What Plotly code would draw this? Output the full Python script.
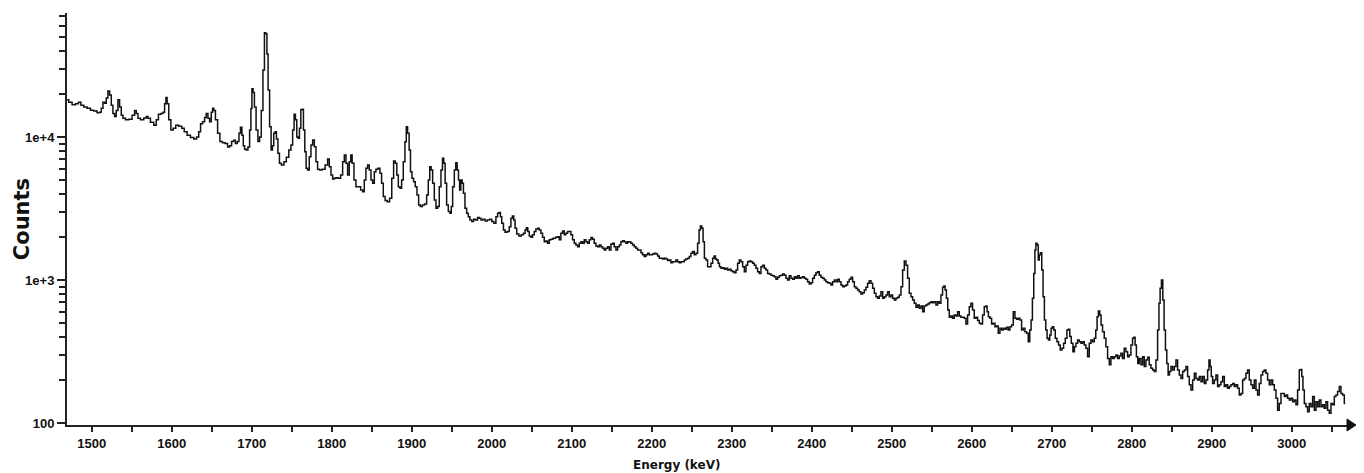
import plotly.graph_objects as go

# ---- data ----
energy_kev = [
    1469.1, 1473.3, 1477.4, 1481.6, 1484.9, 1487.9, 1492.0, 1496.2, 1500.4, 1504.5,
    1508.7, 1510.8, 1512.9, 1515.0, 1517.0, 1519.1, 1521.2, 1523.3, 1525.4, 1527.4,
    1529.5, 1531.6, 1533.7, 1535.8, 1537.9, 1540.0, 1544.1, 1548.3, 1552.4, 1554.5,
    1556.6, 1558.7, 1562.9, 1567.0, 1569.1, 1571.2, 1575.4, 1579.5, 1581.6, 1585.0,
    1587.9, 1590.0, 1592.0, 1593.3, 1595.0, 1597.4, 1600.3, 1603.3, 1606.6, 1610.8,
    1614.1, 1617.0, 1621.2, 1625.4, 1629.5, 1632.4, 1634.9, 1637.0, 1640.0, 1642.0,
    1644.1, 1646.2, 1648.3, 1650.3, 1651.6, 1653.3, 1655.8, 1658.7, 1661.6, 1665.0,
    1668.3, 1671.2, 1673.3, 1676.2, 1678.3, 1680.8, 1682.9, 1685.0, 1686.6, 1688.7,
    1690.0, 1692.0, 1694.1, 1696.2, 1698.3, 1699.5, 1700.8, 1702.4, 1704.1, 1706.6,
    1708.7, 1710.8, 1712.9, 1715.0, 1716.6, 1718.3, 1719.5, 1721.2, 1723.3, 1725.0,
    1726.6, 1728.3, 1730.0, 1731.6, 1733.7,
    1735.4, 1738.7, 1741.7, 1744.6, 1747.9, 1750.0, 1752.1, 1753.7, 1755.4, 1757.1,
    1758.7, 1760.4, 1762.1, 1763.7, 1765.4, 1767.1, 1768.7, 1770.8, 1772.9, 1775.0,
    1777.1, 1779.2, 1781.2, 1783.3, 1786.2, 1789.6, 1793.7, 1795.8, 1797.9, 1800.0,
    1802.1, 1804.2, 1806.2, 1809.6, 1812.5, 1814.6, 1816.7, 1818.7, 1820.8, 1822.9,
    1824.6, 1826.2, 1829.2, 1831.2, 1834.6, 1837.5, 1839.6, 1841.6, 1843.7, 1845.8,
    1847.9, 1850.0, 1852.1, 1854.2, 1856.2, 1859.2, 1861.2, 1863.3, 1865.4, 1867.9,
    1870.8, 1873.7, 1876.2, 1878.3, 1880.4, 1882.1, 1884.2, 1886.2, 1888.3, 1890.4,
    1892.5, 1893.7, 1895.8, 1897.5, 1899.2, 1901.2, 1903.3, 1905.4, 1907.5, 1909.6,
    1911.7, 1914.6, 1917.5, 1919.6, 1921.6, 1923.3, 1925.0, 1927.1, 1929.2, 1931.2,
    1933.3, 1935.4, 1937.5, 1939.2, 1940.8, 1942.5, 1944.6, 1946.7, 1948.7, 1950.0,
    1952.1, 1954.2, 1955.8, 1957.5, 1959.2, 1960.4, 1962.1, 1963.7, 1965.4, 1967.5,
    1969.6, 1971.6, 1973.7, 1976.2, 1978.3, 1981.2, 1983.3, 1985.4, 1987.5, 1990.4,
    1992.9, 1995.8, 1998.7, 2001.2,
    2004.1, 2006.2, 2008.3, 2010.0, 2011.6, 2013.3, 2015.8, 2017.4, 2020.8, 2022.9,
    2024.9, 2026.6, 2028.3, 2029.9, 2032.4, 2035.3, 2038.3, 2040.8, 2042.4, 2044.1,
    2045.8, 2047.9, 2049.9, 2052.0, 2054.1, 2056.2, 2058.3, 2060.4, 2062.4, 2064.5,
    2066.6, 2068.7, 2070.8, 2072.9, 2074.9, 2078.3, 2081.2, 2083.3, 2085.3, 2087.4,
    2089.5, 2091.6, 2093.7, 2095.8, 2097.9, 2099.9, 2102.0, 2104.1, 2106.2, 2108.3,
    2110.4, 2112.4, 2114.5, 2116.6, 2118.7, 2120.8, 2122.9, 2124.9, 2127.0, 2129.1,
    2131.2, 2133.3, 2135.4, 2137.4, 2139.5, 2141.6, 2143.7, 2145.8, 2147.9, 2149.9,
    2152.0, 2154.1, 2156.2, 2158.3, 2160.4, 2162.4, 2164.5, 2166.6, 2168.7, 2170.8,
    2172.9, 2174.9, 2177.0, 2179.1, 2181.2, 2183.3, 2185.4, 2187.4, 2189.5, 2191.6,
    2193.7, 2195.8, 2197.9, 2199.9, 2202.0, 2204.1, 2206.2, 2208.3, 2210.4, 2212.4,
    2214.5, 2216.6, 2218.7, 2220.8, 2222.9, 2224.9, 2227.0, 2229.1, 2231.2, 2233.3,
    2235.4, 2237.4, 2239.5, 2241.6, 2243.7, 2245.8, 2247.9, 2249.9, 2252.0, 2254.1,
    2256.2, 2258.3, 2259.9, 2261.6, 2263.3, 2264.9, 2266.6, 2268.7, 2270.8,
    2272.9, 2275.0, 2277.1, 2278.7, 2280.4, 2282.1, 2283.7, 2285.4, 2287.5, 2289.6,
    2291.7, 2293.7, 2295.8, 2297.9, 2300.0, 2302.1, 2304.2, 2306.2, 2308.3, 2310.4,
    2312.5, 2314.6, 2316.7, 2318.7, 2320.8, 2322.9, 2325.0, 2327.1, 2329.2, 2331.2,
    2333.3, 2335.4, 2337.5, 2339.6, 2341.7, 2343.7, 2345.8, 2347.9, 2350.0, 2352.1,
    2354.2, 2356.2, 2358.3, 2360.4, 2362.5, 2364.6, 2366.7, 2368.7, 2370.8, 2372.9,
    2375.0, 2377.1, 2379.2, 2381.2, 2383.3, 2385.4, 2387.5, 2389.6, 2391.7, 2393.7,
    2395.8, 2397.9, 2400.0, 2402.1, 2404.2, 2406.2, 2408.3, 2410.4, 2412.5, 2414.6,
    2416.7, 2418.7, 2420.8, 2422.9, 2425.0, 2427.1, 2429.2, 2431.2, 2433.3, 2435.4,
    2437.5, 2439.6, 2441.7, 2443.7, 2445.8, 2447.9, 2450.0, 2452.1, 2454.2, 2456.2,
    2458.3, 2460.4, 2462.5, 2464.6, 2466.7, 2468.7, 2470.8, 2472.9, 2475.0, 2477.1,
    2479.2, 2481.2, 2483.3, 2485.4, 2487.5, 2489.6, 2491.7, 2493.7, 2495.8, 2497.9,
    2500.0, 2502.1, 2504.2, 2506.2, 2508.3, 2510.4, 2512.5, 2514.6, 2516.7, 2518.7,
    2520.8, 2522.9, 2525.0, 2527.1, 2529.2, 2531.2, 2533.3, 2535.4, 2537.5, 2539.6,
    2541.6, 2543.7, 2545.8, 2547.9, 2549.9, 2552.0, 2554.1, 2556.2, 2558.3, 2560.4,
    2562.4, 2564.5, 2565.8, 2567.4, 2569.1, 2570.8, 2572.9, 2574.9, 2577.0, 2579.1,
    2581.2, 2583.3, 2585.4, 2587.4, 2589.5, 2591.6, 2593.7, 2595.8, 2597.9, 2599.9,
    2602.0, 2604.1, 2606.2, 2608.3, 2610.4, 2612.4, 2614.5, 2616.6, 2618.3, 2619.9,
    2621.6, 2623.7, 2625.8, 2627.9, 2629.9, 2632.0, 2634.1, 2636.2, 2638.3, 2640.4,
    2642.4, 2644.5, 2646.6, 2648.7, 2650.8, 2652.9, 2654.9, 2657.0, 2659.1, 2661.2,
    2663.3, 2665.4, 2667.4, 2669.5, 2671.6, 2673.3, 2674.9, 2676.6, 2678.3, 2679.5,
    2680.8, 2682.4, 2683.7, 2684.9, 2686.6, 2688.3, 2689.9, 2691.6, 2693.3, 2694.9,
    2696.6, 2698.3, 2699.9, 2701.6, 2703.3, 2705.4, 2707.4, 2709.5, 2711.6, 2713.7,
    2715.8, 2717.9, 2719.9, 2721.6, 2723.3, 2725.4, 2727.4, 2729.1, 2731.2, 2733.3,
    2735.4, 2737.4, 2739.5, 2741.6, 2743.7, 2745.8, 2747.9, 2749.9, 2752.0, 2754.1,
    2755.8, 2757.4, 2759.1, 2760.8, 2762.4, 2764.5, 2766.6, 2768.7, 2770.8, 2772.9,
    2774.9, 2777.0, 2779.1, 2781.2, 2783.3, 2785.4, 2787.4, 2789.5, 2791.6, 2793.7,
    2795.8, 2797.9, 2799.9, 2802.0, 2803.3, 2804.9, 2806.6, 2808.3,
    2810.4, 2812.5, 2814.6, 2816.6, 2818.7, 2820.8, 2822.9, 2825.0, 2827.1, 2829.2,
    2831.2, 2833.3, 2834.6, 2836.2, 2837.9, 2839.6, 2841.2, 2842.9, 2844.6, 2846.2,
    2847.9, 2850.0, 2852.1, 2854.2, 2856.2, 2858.3, 2860.4, 2862.5, 2864.6, 2866.7,
    2868.7, 2870.8, 2872.9, 2875.0, 2877.1, 2879.2, 2881.2, 2883.3, 2885.4, 2887.5,
    2889.6, 2891.7, 2893.7, 2895.8, 2897.1, 2898.7, 2900.0, 2902.1, 2904.2, 2906.2,
    2908.3, 2910.4, 2912.5, 2914.6, 2916.7, 2918.7, 2920.8, 2922.9, 2925.0, 2927.1,
    2929.2, 2931.2, 2933.3, 2935.4, 2937.5, 2939.6, 2941.7, 2943.7, 2945.8, 2947.9,
    2950.0, 2952.1, 2954.2, 2956.2, 2958.3, 2960.4, 2962.5, 2964.6, 2966.7, 2968.7,
    2970.8, 2972.9, 2975.0, 2977.1, 2979.2, 2981.2, 2983.3, 2985.4, 2987.5, 2989.6,
    2991.7, 2993.7, 2995.8, 2997.9, 3000.0, 3002.1, 3004.2, 3006.2, 3008.3, 3010.4,
    3011.6, 3013.3, 3014.6, 3016.7, 3018.7, 3020.8, 3022.9, 3025.0, 3027.1, 3029.2,
    3031.2, 3033.3, 3035.4, 3037.5, 3039.6, 3041.6, 3043.7, 3045.8, 3047.9, 3050.0,
    3052.1, 3054.2, 3056.2, 3058.3, 3060.4, 3062.5, 3064.6, 3066.7,
]

counts = [
    18200, 17500, 16800, 17100, 17500, 16700, 16200, 15900, 15400, 15200,
    14800, 14900, 15900, 17500, 17200, 18700, 21000, 19700, 16700, 14600,
    13900, 15300, 18200, 16200, 14200, 13500, 13200, 13300, 14200, 15300,
    14600, 13500, 13200, 13600, 13900, 13500, 12700, 12100, 13200, 14400,
    14600, 14900, 17100, 18900, 17100, 13200, 11200, 11500, 12100, 11900,
    11500, 10900, 10300, 9900, 9700, 10000, 10900, 12400, 12800, 13700,
    14600, 13500, 12800, 14900, 15900, 15300, 13200, 10600, 9300, 9100,
    9000, 8500, 8700, 9300, 9500, 9000, 9300, 10600, 11700, 10300,
    8700, 8200, 8100, 8500, 11200, 15800, 21700, 20500, 16200, 11200,
    9300, 10000, 15300, 29400, 53500, 52700, 38000, 21300, 11800, 8100,
    8700, 10600, 10900, 9700, 7700,
    6550, 6370, 6710, 7210, 8110, 8790, 11200, 14400, 13200, 10000,
    9800, 11500, 15500, 15600, 11200, 7890, 6040, 5880, 7280, 8790,
    9530, 8550, 6710, 5940, 5880, 5940, 6370, 7020, 6200, 5420,
    5080, 5140, 5190, 5140, 5420, 6710, 7480, 6550, 5420, 6710,
    7480, 6550, 5000, 4490, 4490, 4260, 4140, 5000, 6040, 6370,
    5880, 5000, 4740, 5720, 5940, 6040, 5570, 4740, 3830, 3590,
    3530, 3730, 5140, 6790, 6550, 5420, 4490, 4380, 5000, 6710,
    9270, 11800, 10600, 8110, 5720, 5140, 4870, 4490, 3930, 3340,
    3260, 3340, 3400, 3930, 5000, 6200, 5880, 4740, 3630, 3170,
    3260, 4490, 5880, 7100, 6550, 4740, 3340, 3010, 2930, 3260,
    4490, 5880, 6610, 5880, 5000, 4260, 5000, 4740, 4040, 3170,
    2930, 2770, 2630, 2560, 2660, 2630, 2740, 2700, 2630, 2660,
    2590, 2630, 2660, 2560,
    2490, 2770, 2930, 2970, 2770, 2490, 2240, 2160, 2180, 2360,
    2700, 2800, 2630, 2300, 2100, 2030, 2070, 2120, 2240, 2320,
    2180, 2030, 1990, 2070, 2180, 2270, 2300, 2240, 2120, 1990,
    1850, 1870, 1810, 1910, 1930, 1960, 1990, 2010, 1910, 2120,
    2200, 2070, 2120, 2180, 2180, 2070, 1910, 1810, 1760, 1710,
    1810, 1850, 1810, 1910, 1850, 1810, 1910, 1980, 1930, 1810,
    1730, 1710, 1760, 1710, 1670, 1620, 1670, 1710, 1620, 1780,
    1810, 1710, 1620, 1710, 1760, 1850, 1880, 1850, 1810, 1850,
    1840, 1810, 1760, 1710, 1670, 1620, 1620, 1550, 1500, 1460,
    1500, 1540, 1500, 1500, 1520, 1540, 1520, 1470, 1420, 1420,
    1400, 1420, 1400, 1370, 1380, 1320, 1340, 1340, 1380, 1340,
    1320, 1340, 1340, 1380, 1400, 1420, 1460, 1540, 1580, 1500,
    1540, 1810, 2240, 2390, 2300, 1850, 1420, 1380, 1240,
    1240, 1310, 1420, 1470, 1400, 1380, 1310, 1240, 1210, 1220,
    1190, 1210, 1175, 1190, 1160, 1140, 1125, 1175, 1310, 1380,
    1340, 1240, 1140, 1270, 1340, 1360, 1340, 1310, 1270, 1210,
    1140, 1110, 1240, 1270, 1210, 1175, 1110, 1100, 1080, 1070,
    1055, 1010, 1045, 1070, 1080, 1100, 1080, 1030, 1000, 1070,
    1030, 1010, 1055, 1030, 1070, 1030, 1040, 1055, 1030, 1010,
    973, 937, 957, 1030, 1080, 1125, 1140, 1080, 1045, 1030,
    1000, 973, 957, 948, 923, 973, 1000, 973, 1010, 973,
    923, 898, 908, 923, 973, 1010, 1045, 973, 898, 875,
    851, 829, 798, 815, 851, 889, 948, 989, 948, 875,
    807, 764, 745, 773, 829, 745, 764, 785, 829, 764,
    785, 745, 725, 745, 757, 785, 898, 1175, 1360, 1270,
    1030, 807, 764, 725, 687, 644, 668, 634, 658, 600,
    658, 668, 679, 694, 705, 694, 705, 668, 705, 687,
    785, 889, 908, 851, 745, 617, 548, 560, 540, 569,
    560, 600, 560, 548, 548, 540, 492, 569, 650, 687,
    617, 540, 548, 520, 498, 492, 569, 650, 658, 600,
    554, 540, 492, 498, 471, 476, 424, 459, 447, 459,
    452, 467, 447, 471, 484, 600, 540, 531, 540, 525,
    447, 459, 435, 424, 370, 447, 525, 745, 1110, 1620,
    1810, 1760, 1380, 1500, 1550, 1175, 764, 525, 447, 391,
    380, 412, 459, 471, 447, 391, 370, 351, 324, 333,
    361, 391, 447, 452, 402, 361, 315, 342, 361, 380,
    370, 361, 370, 351, 333, 291, 361, 380, 370, 391,
    447, 554, 607, 569, 484, 435, 391, 342, 283, 255,
    291, 283, 291, 299, 283, 294, 307, 283, 333, 315,
    291, 299, 351, 391, 397, 351, 291, 261,
    283, 255, 291, 248, 276, 288, 255, 241, 235, 229,
    276, 447, 687, 875, 1000, 725, 447, 324, 261, 217,
    229, 248, 235, 248, 276, 235, 217, 205, 229, 235,
    248, 211, 185, 170, 200, 223, 205, 200, 211, 194,
    211, 189, 200, 235, 276, 248, 211, 189, 200, 217,
    180, 185, 194, 211, 180, 185, 175, 180, 185, 189,
    180, 185, 175, 157, 161, 200, 205, 223, 235, 200,
    185, 175, 200, 170, 157, 189, 217, 229, 235, 223,
    200, 185, 200, 185, 170, 149, 123, 137, 161, 161,
    153, 157, 149, 145, 149, 141, 145, 134, 170, 235,
    237, 211, 170, 137, 130, 120, 137, 130, 153, 123,
    141, 130, 145, 130, 134, 127, 141, 123, 117, 137,
    134, 153, 157, 166, 180, 161, 157, 137,
]

x_tick_values = [1500, 1600, 1700, 1800, 1900, 2000, 2100, 2200, 2300, 2400,
                 2500, 2600, 2700, 2800, 2900, 3000]
x_tick_labels = ["1500", "1600", "1700", "1800", "1900", "2000", "2100", "2200",
                 "2300", "2400", "2500", "2600", "2700", "2800", "2900", "3000"]
y_tick_values = [100, 1000, 10000]
y_tick_labels = ["100", "1e+3", "1e+4"]
y_minor_values = [200, 300, 400, 500, 600, 700, 800, 900,
                  2000, 3000, 4000, 5000, 6000, 7000, 8000, 9000,
                  20000, 30000, 40000, 50000, 60000, 70000]

x_range = [1469, 3069]
y_log_range = [1.986, 4.867]

fig = go.Figure()
fig.add_trace(go.Scatter(
    x=energy_kev, y=counts, mode="lines",
    line=dict(color="#111111", width=1.5, shape="hvh"),
    hoverinfo="skip", showlegend=False,
))

tick_font = dict(family="Liberation Sans, Arial, sans-serif", size=13,
                 color="#111111", weight="bold")

fig.update_xaxes(
    range=x_range, tickmode="array", tickvals=x_tick_values,
    ticktext=["<b>%s</b>" % t for t in x_tick_labels],
    ticks="outside", ticklen=5, tickwidth=1.5, tickcolor="#222222",
    showline=True, linecolor="#222222", linewidth=2,
    showgrid=False, zeroline=False, tickfont=tick_font,
    minor=dict(dtick=50, ticks="outside", ticklen=5, tickwidth=1.5,
               tickcolor="#222222", showgrid=False),
)
fig.update_yaxes(
    type="log", range=y_log_range, tickmode="array",
    tickvals=y_tick_values, ticktext=["<b>%s</b>" % t for t in y_tick_labels],
    ticks="outside", ticklen=8, tickwidth=1.5, tickcolor="#222222",
    showline=True, linecolor="#222222", linewidth=2,
    showgrid=False, zeroline=False, tickfont=tick_font,
    minor=dict(tickmode="array", tickvals=y_minor_values, ticks="outside",
               ticklen=6, tickwidth=1.5, tickcolor="#222222", showgrid=False),
)

# arrow head at the end of the x axis
fig.add_shape(
    type="path", xref="paper", yref="paper",
    xsizemode="pixel", ysizemode="pixel", xanchor=1, yanchor=0,
    path="M 0 -6 L 9 0 L 0 6 Z",
    fillcolor="#111111", line=dict(color="#111111", width=1),
)

fig.add_annotation(
    text="<b>Counts</b>", xref="paper", yref="paper", x=-0.035, y=0.5,
    textangle=-90, showarrow=False, xanchor="center", yanchor="middle",
    font=dict(family="DejaVu Sans, sans-serif", size=21, color="#111111"),
)
fig.add_annotation(
    text="<b>Energy (keV)</b>", xref="paper", yref="paper", x=0.476, y=-0.097,
    showarrow=False, xanchor="center", yanchor="middle",
    font=dict(family="DejaVu Sans, sans-serif", size=12, color="#111111"),
)

fig.update_layout(
    width=1364, height=473,
    margin=dict(l=67, r=17, t=13, b=48),
    paper_bgcolor="white", plot_bgcolor="white",
)

fig.write_html("out.html")
